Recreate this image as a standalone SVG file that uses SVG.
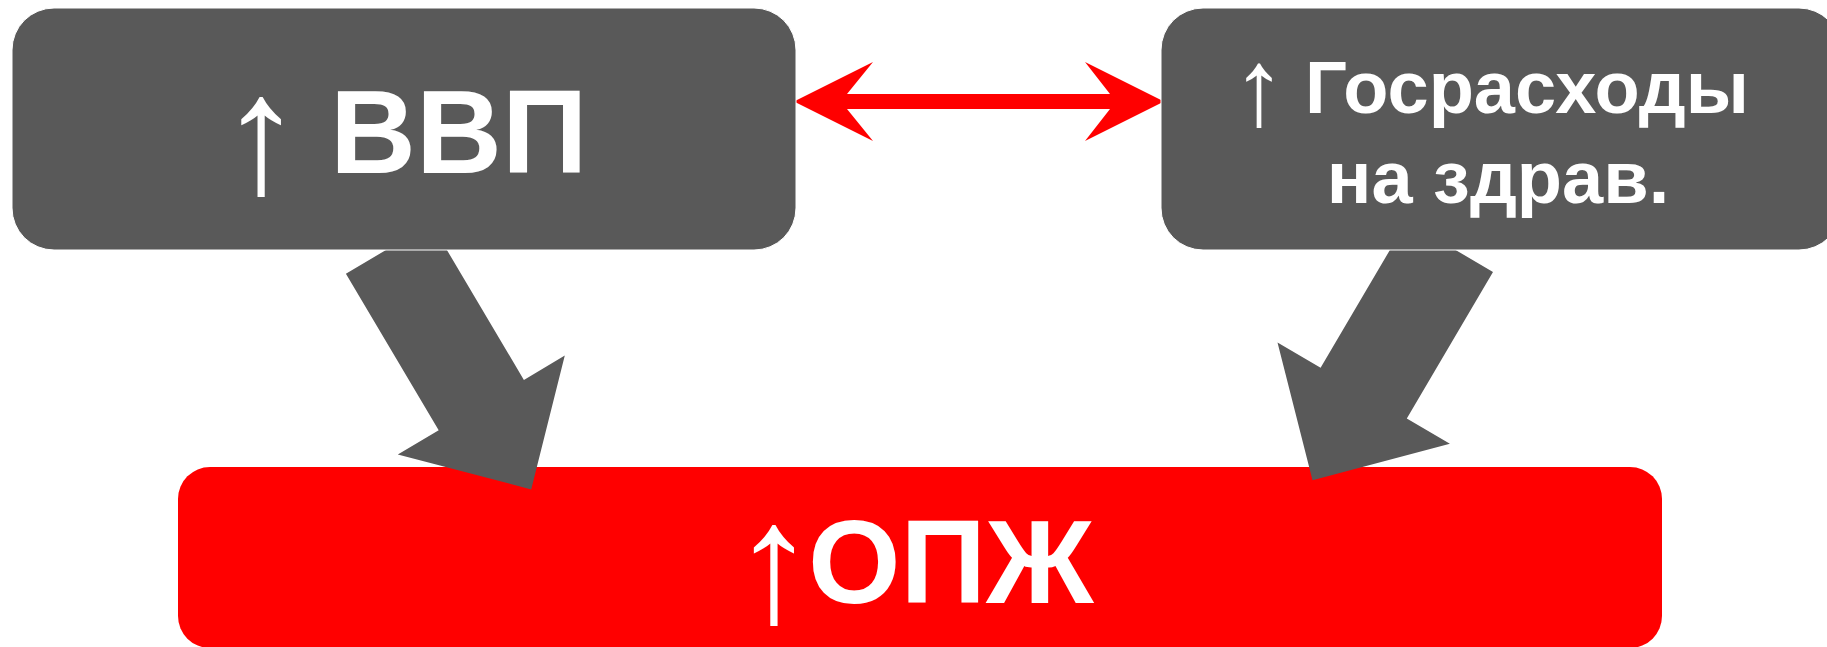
<svg xmlns="http://www.w3.org/2000/svg" width="1827" height="647" viewBox="0 0 1827 647">
<style>
.box{fill:#595959;stroke:#ffffff;stroke-width:1}
.red{fill:#ff0000}
.gray{fill:#595959}
.t{font-family:"Liberation Sans",Arial,sans-serif;font-weight:bold;fill:#ffffff}
.ar{font-weight:normal}
</style>
<rect width="1827" height="647" fill="#ffffff"/>
<g id="node-opzh">
<rect class="red" x="178" y="467" width="1484" height="181" rx="32" ry="32"/>
<text class="t" font-size="119" y="603"><tspan class="ar" x="774" y="621" font-size="171" text-anchor="middle">↑</tspan><tspan x="808" y="603">ОПЖ</tspan></text>
</g>
<g id="connectors">
<polygon class="gray" points="386,250 345.9,273.7 438.7,430.3 397.8,454.6 531.2,489.4 564.8,355.6 523.9,379.9 446.9,250"/>
<polygon class="gray" points="1389.9,250 1455.6,250 1493,272 1406.8,418.5 1449.9,443.8 1312.5,480.2 1277.5,342.4 1320.6,367.7"/>
<polygon class="red" points="794,101.5 873,62 847,94 1110,94 1085,62 1164,101.5 1085,141 1110,109 847,109 873,141"/>
</g>
<g id="node-vvp">
<rect class="box" x="12" y="8" width="784" height="242" rx="42" ry="42"/>
<text class="t" font-size="119" y="173"><tspan class="ar" x="261" y="192" font-size="169" text-anchor="middle">↑</tspan><tspan x="330" y="173">ВВП</tspan></text>
</g>
<g id="node-gosrashody">
<rect class="box" x="1161" y="8" width="680" height="242" rx="42" ry="42"/>
<text class="t" font-size="74" y="113"><tspan class="ar" x="1259" y="124.5" font-size="109" text-anchor="middle">↑</tspan><tspan x="1305" y="113">Госрасходы</tspan><tspan x="1498" y="203" text-anchor="middle">на здрав.</tspan></text>
</g>
</svg>
